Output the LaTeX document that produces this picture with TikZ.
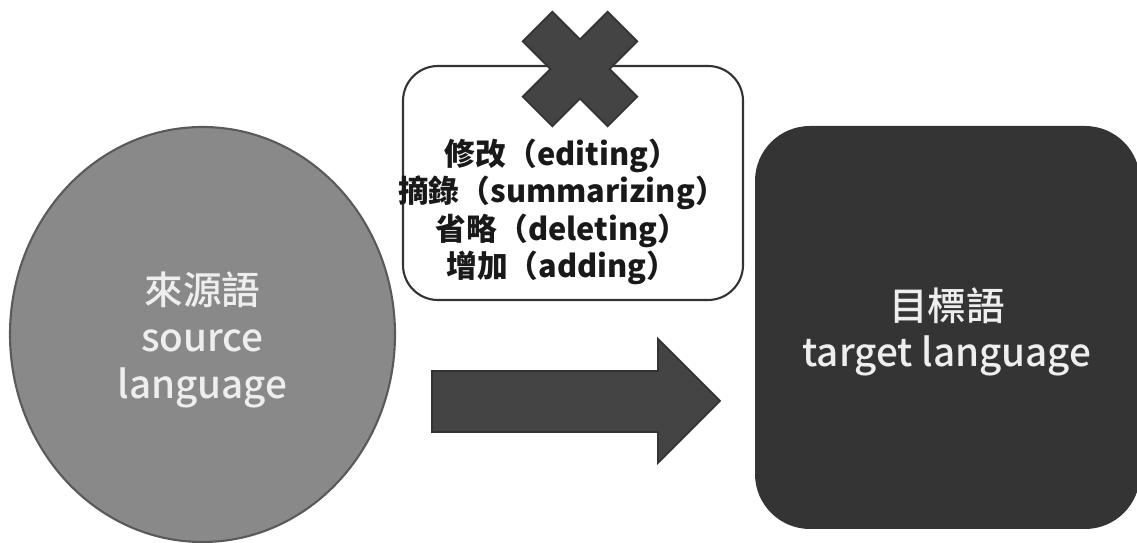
\documentclass[tikz,border=0pt]{standalone}
\usepackage{fontspec}
\setmainfont{Noto Sans CJK TC}
\newfontfamily\cjkmed{Noto Sans CJK TC Medium}
\usetikzlibrary{positioning}
\definecolor{srcgray}{HTML}{898989}
\definecolor{srcline}{HTML}{5A5A5A}
\definecolor{darkfill}{HTML}{444444}
\definecolor{darkline}{HTML}{333333}
\definecolor{tgtfill}{HTML}{343434}
\definecolor{lighttext}{HTML}{EEEEEE}
\tikzset{
  langlabel/.style={align=center, text=lighttext, font=\cjkmed\fontsize{22}{26.6}\selectfont},
  rulebox/.style={draw=darkline, line width=1.2pt, fill=white, rounded corners=0.7cm},
  darkshape/.style={fill=darkfill, draw=darkline, line width=1pt, line join=miter}
}
\begin{document}
\begin{tikzpicture}[x=0.02cm, y=-0.02cm]
\useasboundingbox (0,0) rectangle (1137,543);
%Ngôn ngữ nguồn
\draw[fill=srcgray, draw=srcline, line width=1.2pt] (202.5,334.5) ellipse [x radius=192.5, y radius=207.5];
\node[langlabel] (src) at (202.5,340) {來源語\\source\\language};
%Ngôn ngữ đích
\fill[tgtfill, rounded corners=1.1cm] (755,126) rectangle (1140,529);
\node[langlabel] (tgt) at (947,332) {目標語\\target language};
%Mũi tên
\draw[darkshape] (432,371) -- (658,371) -- (658,339) -- (720,401) -- (658,463) -- (658,432) -- (432,432) -- cycle;
%Hộp các thao tác và dấu X
\draw[rulebox] (403,66) rectangle (743,300);
\begin{scope}[shift={(580,69)}, rotate=45]
\def\L{60} \def\w{21}
\draw[darkshape] (-\w,\L) -- (\w,\L) -- (\w,\w) -- (\L,\w) -- (\L,-\w) -- (\w,-\w) -- (\w,-\L)
  -- (-\w,-\L) -- (-\w,-\w) -- (-\L,-\w) -- (-\L,\w) -- (-\w,\w) -- cycle;
\end{scope}
\node[align=center, text=black!90, font=\bfseries\fontsize{17.5}{21.2}\selectfont] (ops) at (562,212)
  {修改（editing）\\摘錄（summarizing）\\省略（deleting）\\增加（adding）};
\end{tikzpicture}
\end{document}
